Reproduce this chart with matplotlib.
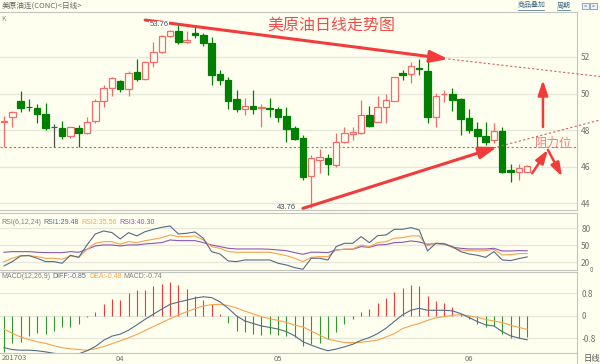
import matplotlib
matplotlib.use('Agg')
import matplotlib.pyplot as plt
from matplotlib.lines import Line2D
from matplotlib.patches import Rectangle

plt.rcParams['font.family'] = ['Noto Sans CJK SC', 'DejaVu Sans']

# ===== data =====
opens = [48.43, 48.74, 49.59, 49.28, 49.23, 48.90, 48.15, 48.13, 47.68, 48.10,
         47.86, 48.50, 49.59, 50.30, 50.69, 50.23, 51.18, 50.78, 51.71, 52.29,
         53.15, 53.42, 52.80, 53.33, 53.18, 52.77, 51.05, 50.74, 49.68, 49.17,
         49.34, 49.22, 49.23, 49.16, 48.75, 48.10, 47.57, 45.47, 46.35, 46.49,
         46.08, 47.37, 47.80, 47.83, 48.83, 48.46, 49.28, 49.61, 51.11, 51.07,
         51.40, 51.25, 48.70, 49.96, 49.98, 49.69, 48.65, 48.04, 47.68, 47.46,
         47.97, 45.82, 45.69, 45.69]
highs = [48.77, 49.05, 50.14, 49.72, 49.41, 49.47, 48.35, 48.48, 48.19, 48.28,
         48.72, 49.68, 50.45, 50.92, 50.74, 51.25, 51.87, 51.80, 52.84, 53.20,
         53.47, 53.76, 53.44, 53.62, 53.29, 53.11, 51.29, 50.92, 50.20, 49.74,
         50.20, 49.41, 49.74, 49.28, 49.25, 48.25, 47.75, 46.66, 46.95, 46.68,
         47.82, 48.19, 48.15, 49.62, 49.34, 49.87, 50.00, 50.92, 51.29, 51.74,
         51.91, 51.93, 50.01, 50.20, 50.29, 49.74, 49.14, 48.46, 48.46, 48.37,
         48.15, 46.15, 46.15, 46.10]
lows = [47.08, 48.15, 48.97, 49.05, 48.41, 48.00, 47.08, 47.53, 47.55, 47.08,
        47.79, 48.37, 49.25, 49.89, 50.10, 49.87, 50.71, 50.75, 51.47, 52.20,
        53.10, 52.71, 52.78, 53.02, 52.60, 50.47, 50.47, 49.17, 49.00, 48.83,
        48.88, 48.19, 48.74, 48.46, 47.33, 47.45, 45.27, 43.76, 45.67, 45.53,
        46.00, 47.32, 47.46, 47.79, 48.15, 48.42, 48.41, 49.59, 50.74, 50.56,
        51.02, 48.41, 48.19, 49.56, 49.06, 47.73, 47.83, 46.91, 47.19, 47.28,
        45.64, 45.18, 45.27, 45.69]
closes = [48.52, 48.97, 49.23, 49.25, 48.90, 48.13, 48.15, 47.68, 48.15, 47.86,
          48.43, 49.59, 50.30, 50.85, 50.23, 51.14, 50.82, 51.71, 52.29, 53.15,
          53.42, 52.80, 52.91, 53.22, 52.77, 51.00, 50.72, 49.61, 49.17, 49.34,
          49.17, 49.28, 49.16, 48.70, 48.08, 47.53, 45.45, 46.46, 46.51, 46.15,
          47.33, 47.82, 47.90, 48.81, 48.23, 49.28, 49.65, 50.89, 51.03, 51.51,
          51.33, 48.70, 49.87, 50.00, 49.65, 48.61, 48.01, 47.68, 47.37, 47.97,
          45.73, 45.69, 45.91, 46.04]

rsi1 = [13.6, 21.2, 31.2, 31.8, 27.1, 21.2, 21.2, 18.3, 32.4, 28.8,
        50.6, 70.0, 75.3, 72.4, 61.2, 72.4, 66.5, 74.1, 78.2, 81.8,
        84.1, 70.0, 71.2, 73.5, 62.4, 38.8, 34.7, 22.4, 21.2, 24.1,
        24.1, 24.1, 24.1, 18.3, 15.3, 10.6, 7.7, 27.1, 27.1, 24.1,
        47.7, 53.5, 53.5, 65.3, 54.7, 67.1, 68.2, 78.2, 78.2, 81.2,
        77.1, 40.0, 53.5, 52.4, 47.7, 38.8, 34.7, 32.4, 28.8, 38.8,
        24.1, 23.0, 26.5, 29.5]
rsi2 = [21.2, 27.1, 31.8, 31.8, 30.0, 27.1, 27.1, 25.3, 31.2, 28.8,
        43.0, 53.5, 56.5, 56.5, 51.8, 56.5, 54.7, 58.2, 60.6, 63.5,
        68.2, 65.3, 65.3, 66.5, 59.4, 47.7, 44.7, 38.8, 37.7, 37.7,
        37.7, 37.7, 37.7, 34.7, 31.8, 27.1, 21.2, 28.8, 30.0, 30.0,
        41.8, 43.0, 43.5, 50.6, 47.7, 54.7, 56.5, 62.4, 63.5, 66.5,
        66.5, 48.8, 53.5, 53.5, 45.9, 41.8, 40.6, 40.0, 40.6, 43.0,
        33.0, 33.5, 35.3, 35.6]
rsi3 = [37.7, 38.8, 38.8, 38.8, 37.7, 37.1, 37.1, 37.1, 38.8, 37.7,
        43.0, 48.8, 50.6, 50.6, 48.8, 50.6, 50.6, 52.4, 53.5, 54.7,
        59.4, 58.2, 58.2, 58.2, 54.7, 50.6, 47.7, 44.7, 43.5, 43.5,
        43.5, 43.5, 43.0, 41.8, 40.6, 37.1, 34.1, 37.7, 37.7, 37.1,
        41.8, 43.0, 43.0, 47.7, 46.5, 50.6, 51.2, 54.7, 55.3, 57.7,
        55.9, 51.8, 53.0, 52.4, 46.5, 44.7, 43.5, 43.5, 43.5, 44.7,
        40.0, 40.0, 40.6, 40.3]

diff = [-1.13, -1.20, -1.22, -1.22, -1.24, -1.28, -1.33, -1.36, -1.36, -1.35,
        -1.24, -1.09, -0.87, -0.72, -0.65, -0.51, -0.32, -0.12, 0.06, 0.24,
        0.41, 0.49, 0.56, 0.63, 0.68, 0.65, 0.50, 0.27, 0.00, -0.18,
        -0.27, -0.36, -0.41, -0.47, -0.56, -0.71, -0.92, -1.04, -1.15, -1.24,
        -1.18, -1.10, -1.01, -0.87, -0.77, -0.63, -0.44, -0.20, 0.04, 0.20,
        0.27, 0.20, 0.20, 0.20, 0.18, 0.08, -0.06, -0.20, -0.32, -0.36,
        -0.56, -0.71, -0.79, -0.85]
dea = [-0.47, -0.62, -0.75, -0.84, -0.92, -0.98, -1.06, -1.13, -1.17, -1.20,
       -1.22, -1.17, -1.09, -0.99, -0.89, -0.78, -0.66, -0.52, -0.38, -0.24,
       -0.10, 0.03, 0.15, 0.26, 0.35, 0.40, 0.41, 0.37, 0.28, 0.17,
       0.07, -0.03, -0.10, -0.16, -0.23, -0.33, -0.39, -0.54, -0.68, -0.83,
       -0.89, -0.95, -0.95, -0.94, -0.90, -0.86, -0.75, -0.63, -0.45, -0.35,
       -0.27, -0.16, -0.07, -0.03, 0.02, 0.04, 0.00, -0.05, -0.13, -0.18,
       -0.24, -0.33, -0.41, -0.48]
macd_hist = [-1.28, -0.95, -0.92, -0.71, -0.62, -0.65, -0.53, -0.41, -0.39, -0.30,
             -0.05, 0.14, 0.41, 0.59, 0.56, 0.81, 0.91, 0.91, 1.07, 1.13,
             1.19, 1.10, 0.95, 0.71, 0.56, 0.41, 0.08, -0.27, -0.53, -0.59,
             -0.65, -0.68, -0.65, -0.68, -0.71, -0.75, -1.07, -1.01, -0.95, -0.83,
             -0.59, -0.30, -0.12, 0.14, 0.26, 0.45, 0.62, 0.85, 0.98, 1.09,
             1.07, 0.71, 0.53, 0.45, 0.33, 0.08, -0.12, -0.30, -0.39, -0.36,
             -0.65, -0.77, -0.77, -0.74]

price_ticks = [44, 46, 48, 50, 52]
rsi_ticks = [20, 50, 80]
macd_ticks = [-0.8, 0, 0.8]
macd_tick_labels = ['-0.8', '0', '0.8']
month_pos = [14, 33, 56]
month_labels = ['04', '05', '06']
ref_level = 47.08

# 手描きのトレンド線 (index, price)
upper_x = [17.0, 53.5]
upper_y = [54.02, 51.89]
upper_ext_x = [53.5, 71.8]
upper_ext_y = [51.89, 50.93]
lower_x = [36.0, 59.4]
lower_y = [43.72, 47.08]
lower_ext_x = [59.4, 71.8]
lower_ext_y = [47.08, 48.56]
up_arrow_x = [64.9, 64.9]
up_arrow_y = [48.17, 50.74]
zig_x = [63.6, 65.5, 67.2]
zig_y = [45.64, 46.92, 45.46]

# ===== style =====
W, H = 600, 364
RIGHT = 577
BG = '#fffff0'
GRID = '#e6e6da'
SPINE = '#c4c4c0'
TXT = '#707070'
UP = '#f66a6a'
DOWN = '#008000'
ARROW = '#f23c3c'
SLATE = '#566a88'
ORANGE = '#f8a24e'
PURPLE = '#8a56b4'
SMALL = ['Liberation Sans', 'DejaVu Sans']

fig = plt.figure(figsize=(W / 100, H / 100), dpi=100, facecolor=BG)


def ax_rect(top, bottom):
    return [0, 1 - bottom / H, RIGHT / W, (bottom - top) / H]


def fig_xy(x, y):
    return x / W, 1 - y / H


def style_panel(ax, ticks, labels=None):
    ax.set_facecolor(BG)
    ax.set_xlim(-0.48, 69.0)
    ax.spines['left'].set_visible(False)
    for s in ['top', 'bottom', 'right']:
        ax.spines[s].set_color(SPINE)
        ax.spines[s].set_linewidth(0.8)
    ax.yaxis.tick_right()
    ax.set_yticks(ticks)
    if labels is not None:
        ax.set_yticklabels(labels)
    ax.tick_params(axis='y', length=0, pad=3, labelsize=6, labelcolor=TXT)
    ax.set_xticks([])
    for t in ticks:
        ax.axhline(t, color=GRID, lw=0.9, zorder=0)


ax = fig.add_axes(ax_rect(12, 210))
ax_rsi = fig.add_axes(ax_rect(213, 270))
ax_macd = fig.add_axes(ax_rect(272, 353))

style_panel(ax, price_ticks)
ax.set_ylim(43.63, 54.46)
style_panel(ax_rsi, rsi_ticks)
ax_rsi.set_ylim(6.4, 107)
style_panel(ax_macd, macd_ticks, macd_tick_labels)
ax_macd.set_ylim(-1.32, 1.56)

# ===== candles =====
idx = list(range(len(opens)))
for i in idx:
    o, h, l, c = opens[i], highs[i], lows[i], closes[i]
    if c > o:
        col, face = UP, BG
    elif c < o:
        col, face = DOWN, DOWN
    else:
        col, face = '#505050', '#505050'
    ax.vlines(i, l, h, color=col, lw=0.9, zorder=2)
    ax.bar(i, max(abs(c - o), 0.03), bottom=min(o, c), width=0.78,
           facecolor=face, edgecolor=col, linewidth=0.9, zorder=3)

ax.axhline(ref_level, color='#c86464', lw=0.8, ls=(0, (2, 2)), zorder=1)

ax.text(idx[21] - 1.2, highs[21], '53.76', fontsize=5.5, color='#445066',
        family=SMALL, ha='right', va='center', zorder=6,
        bbox=dict(facecolor=BG, edgecolor='none', pad=0.3))
ax.text(idx[37] - 1.8, lows[37] + 0.02, '43.76', fontsize=5.5, color='#445066',
        family=SMALL, ha='right', va='center', zorder=6)

# trend lines & arrows
arrow_style = '-|>,head_length=0.9,head_width=0.3'
ax.annotate('', xy=(upper_x[1], upper_y[1]), xytext=(upper_x[0], upper_y[0]),
            arrowprops=dict(arrowstyle=arrow_style, color=ARROW, lw=2.2,
                            mutation_scale=12, shrinkA=0, shrinkB=0), zorder=5)
ax.annotate('', xy=(lower_x[1], lower_y[1]), xytext=(lower_x[0], lower_y[0]),
            arrowprops=dict(arrowstyle=arrow_style, color=ARROW, lw=2.2,
                            mutation_scale=12, shrinkA=0, shrinkB=0), zorder=5)
ax.plot(upper_ext_x, upper_ext_y, color='#d46060', lw=0.8, ls=(0, (2, 2)),
        clip_on=False, zorder=4)
ax.plot(lower_ext_x, lower_ext_y, color='#d46060', lw=0.8, ls=(0, (2, 2)),
        clip_on=False, zorder=4)
ax.annotate('', xy=(up_arrow_x[1], up_arrow_y[1]), xytext=(up_arrow_x[0], up_arrow_y[0]),
            arrowprops=dict(arrowstyle=arrow_style, color=ARROW, lw=1.8,
                            mutation_scale=10, shrinkA=0, shrinkB=0), zorder=5)
ax.annotate('', xy=(zig_x[1], zig_y[1]), xytext=(zig_x[0], zig_y[0]),
            arrowprops=dict(arrowstyle=arrow_style, color=ARROW, lw=1.8,
                            mutation_scale=9, shrinkA=0, shrinkB=0), zorder=5)
ax.annotate('', xy=(zig_x[2], zig_y[2]), xytext=(zig_x[1], zig_y[1]),
            arrowprops=dict(arrowstyle=arrow_style, color=ARROW, lw=1.8,
                            mutation_scale=9, shrinkA=0, shrinkB=0), zorder=5)

ax.text(39.4, 53.72, '美原油日线走势图', fontsize=11.5, color='#ef4d4d',
        ha='center', va='center', zorder=6)
ax.text(66.2, 47.3, '阻力位', fontsize=9, color='#f27c7c',
        ha='center', va='center', zorder=6, clip_on=False)
ax.text(0.003, 0.985, 'K', transform=ax.transAxes, fontsize=5, color='#909090',
        ha='left', va='top')

# ===== RSI =====
ax_rsi.plot(idx, rsi3, color=PURPLE, lw=0.8)
ax_rsi.plot(idx, rsi2, color=ORANGE, lw=0.8)
ax_rsi.plot(idx, rsi1, color=SLATE, lw=0.8)
fig.text(*fig_xy(590, 269.5), '0', fontsize=4.5, color=TXT, ha='left', va='center')

# ===== MACD =====
for i in idx:
    v = macd_hist[i]
    ax_macd.vlines(i, 0, v, color='#f03838' if v > 0 else '#2e9a2e', lw=0.8, zorder=2)
ax_macd.plot(idx, dea, color=ORANGE, lw=0.8, zorder=3)
ax_macd.plot(idx, diff, color=SLATE, lw=0.8, zorder=3)

ax_macd.set_xticks(month_pos)
ax_macd.set_xticklabels(month_labels)
ax_macd.tick_params(axis='x', length=0, pad=1.5, labelsize=5.5, labelcolor=TXT)
fig.text(*fig_xy(2, 358), '201703', fontsize=5.5, color=TXT, ha='left', va='center')

# ===== header / labels =====
fig.text(*fig_xy(2, 5.5), '美原油连(CONC)<日线>', fontsize=5.5, color='#666666',
         ha='left', va='center')
for label, x0 in [('商品叠加', 518), ('周期', 557)]:
    fig.text(*fig_xy(x0, 5.5), label, fontsize=5, color='#3e6688', ha='left',
             va='center')
    fig.add_artist(Line2D([x0 / W, (x0 + 6.5 * len(label)) / W],
                          [1 - 9.5 / H, 1 - 9.5 / H], color='#3e6688', lw=0.5))
for x0 in [582, 590]:
    fig.add_artist(Rectangle(fig_xy(x0, 9), 7 / W, 6 / H, facecolor='#eef2f6',
                             edgecolor='#6a88a6', lw=0.5))
    fig.text(*fig_xy(x0 + 3.5, 6), '<' if x0 == 582 else '>', fontsize=4,
             color='#3e6688', ha='center', va='center')

# 指標の見出し: 色ごとに区切って左から順に並べる
renderer = fig.canvas.get_renderer()


def header_row(y, segs):
    x = 1.0
    for s, c in segs:
        t = fig.text(*fig_xy(x, y), s, fontsize=5, color=c, family=SMALL,
                     ha='left', va='center')
        x += t.get_window_extent(renderer).width + 2.5


header_row(222, [('RSI(6,12,24)', '#808080'), ('RSI1:29.48', SLATE),
                 ('RSI2:35.56', ORANGE), ('RSI3:40.30', PURPLE)])
header_row(277, [('MACD(12,26,9)', '#808080'), ('DIFF:-0.85', SLATE),
                 ('DEA:-0.48', ORANGE), ('MACD:-0.74', '#808080')])

fig.add_artist(Line2D([RIGHT / W, RIGHT / W], [0, 11 / H], color=SPINE, lw=0.8))
fig.text(*fig_xy(584, 358.5), '日线', fontsize=6, color='#555555', ha='left', va='center')

plt.savefig('out.png', dpi=100, facecolor=BG)
